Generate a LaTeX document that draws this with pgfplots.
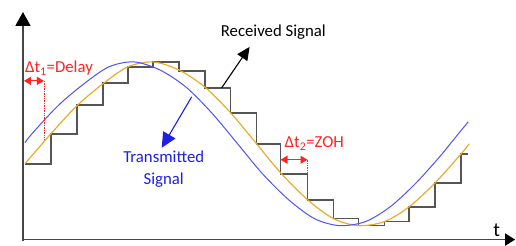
\documentclass[border=0pt]{standalone}
\usepackage{fontspec}
\setmainfont{Carlito}
\usepackage{pgfplots}
\pgfplotsset{compat=1.18}
\usetikzlibrary{arrows.meta}
\definecolor{tblue}{RGB}{80,80,255}
\definecolor{tbluetext}{RGB}{30,30,235}
\definecolor{rorange}{RGB}{232,172,45}
\definecolor{stair}{RGB}{85,85,85}
\definecolor{myred}{RGB}{255,35,35}
\definecolor{axgray}{RGB}{70,70,70}
\begin{document}
\begin{tikzpicture}
\begin{axis}[x=1pt,y=1pt,xmin=0,xmax=516,ymin=0,ymax=244,hide axis,clip=false]
\path (axis cs:0,0) rectangle (axis cs:516,244);
% zero-order hold staircase
\addplot[stair, line width=1.7pt, const plot mark left, no marks] coordinates {
(25,80) (51,110) (77,139) (103,161) (128,177) (153,182) (179,173) (205,156)
(231,131) (257,100) (281,70) (308,44) (334,25) (359,18) (385,22) (410,37)
(436,61) (462,90) (469,90)};
% received (delayed) signal
\addplot[rorange, line width=1.2pt, smooth, no marks] coordinates {
(25,80) (51,110) (77,138) (103,160) (128,177) (153,182) (179,174) (205,157)
(231,131) (257,100) (281,71) (308,44) (334,25) (359,18) (385,22) (410,37)
(436,61) (462,90) (470,100)};
% transmitted signal
\addplot[tblue, line width=1.0pt, smooth, no marks] coordinates {
(25,101) (32,110) (58,138) (84,160) (109,177) (134,182) (160,174) (186,157)
(212,131) (238,100) (262,71) (289,44) (315,25) (340,18) (366,22) (391,37)
(417,61) (443,90) (451,100) (469,122)};
% axes
\draw[axgray, line width=1.7pt, -{Triangle[width=15pt,length=14pt,black]}] (axis cs:23,3) -- (axis cs:23,232);
\draw[axgray, line width=1.7pt, -{Triangle[width=12pt,length=10pt,black]}] (axis cs:22,4) -- (axis cs:516,4);
\node[anchor=base west, inner sep=0pt, font=\fontsize{20}{22}\selectfont] at (axis cs:494,7) {t};
% labels
\node[anchor=base west, inner sep=0pt, font=\fontsize{16.8}{19}\selectfont] at (axis cs:221,207) {Received Signal};
\draw[black, line width=1.1pt, -{Triangle[width=12pt,length=13pt]}] (axis cs:222,156) -- (axis cs:250,197);
\node[anchor=base, inner sep=0pt, text=tbluetext, font=\fontsize{16.8}{19}\selectfont] at (axis cs:164,81) {Transmitted};
\node[anchor=base, inner sep=0pt, text=tbluetext, font=\fontsize{16.8}{19}\selectfont] at (axis cs:164,59) {Signal};
\draw[tbluetext, line width=1.1pt, -{Triangle[width=14pt,length=15pt]}] (axis cs:192,147) -- (axis cs:162,96);
% delay annotation
\node[anchor=base west, inner sep=0pt, text=myred, font=\fontsize{16.8}{19}\selectfont] at (axis cs:25,171) {Δt\textsubscript{1}=Delay};
\draw[myred, line width=1.2pt, {Triangle[width=8pt,length=7pt]}-{Triangle[width=8pt,length=7pt]}] (axis cs:24,163) -- (axis cs:44,163);
\draw[myred, densely dotted, line width=0.7pt] (axis cs:44,163) -- (axis cs:44,105);
% ZOH annotation
\node[anchor=base west, inner sep=0pt, text=myred, font=\fontsize{16.8}{19}\selectfont] at (axis cs:285,96) {Δt\textsubscript{2}=ZOH};
\draw[myred, line width=1.2pt, {Triangle[width=8pt,length=7pt]}-{Triangle[width=8pt,length=7pt]}] (axis cs:281,84) -- (axis cs:308,84);
\draw[myred, densely dotted, line width=0.7pt] (axis cs:308,84) -- (axis cs:308,70);
\end{axis}
\end{tikzpicture}
\end{document}
